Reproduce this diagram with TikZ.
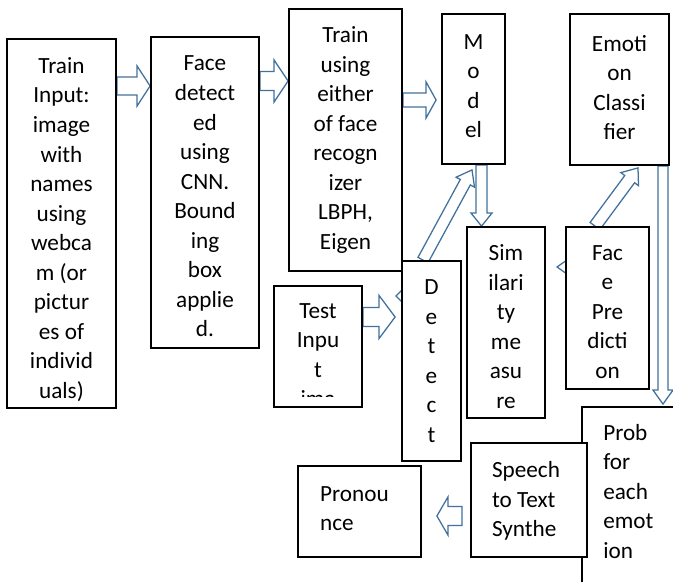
\documentclass[tikz,border=0pt]{standalone}
\usepackage{fontspec}
\setmainfont{Carlito}
\usetikzlibrary{calc,fit}
\pgfdeclarelayer{background}
\pgfsetlayers{background,main}
\definecolor{arrowblue}{RGB}{65,113,156}
\def\pxu{0.025cm}
\tikzset{
	box/.style={draw=black, line width=1.3pt, fill=white, inner sep=0pt},
	btext/.style={inner sep=0pt, align=center, font=\fontsize{16.5}{21}\selectfont},
	barrow/.style={draw=arrowblue, line width=0.9pt, fill=white, line join=miter}
}
% block arrow: from, to, shaft half width, head half width, head length
\newcommand\blockarrow[5]{
	\coordinate (ba) at (#1);
	\coordinate (bb) at (#2);
	\coordinate (bh) at ($(bb)!#5*\pxu!(ba)$);
	\draw[barrow] ($(ba)!#3*\pxu!90:(bb)$) -- ($(bh)!#3*\pxu!90:(bb)$) -- ($(bh)!#4*\pxu!90:(bb)$) -- (bb)
		-- ($(bh)!#4*\pxu!-90:(bb)$) -- ($(bh)!#3*\pxu!-90:(bb)$) -- ($(ba)!#3*\pxu!-90:(bb)$) -- cycle;
}

\begin{document}
\begin{tikzpicture}[x=\pxu,y=-\pxu]
			
			\useasboundingbox (0,0) rectangle (673,582);
			\clip (0,0) rectangle (673,582);
			
			\node[box, fit={(582,407) (700,600)}] (pr) {};
			\node[btext, anchor=north west, align=left] (prtxt) at (603,424) {Prob\\for\\each\\emot\\ion};
			
			\foreach \nm/\xa/\ya/\xb/\yb in {
				tin/7/39/116/408, fd/151/37/259/348, tu/289/9/402/271,
				md/442/14/505/164, ec/570/14/669/165, sim/467/227/545/418,
				fp/566/227/649/389, det/402/261/461/461, sp/471/443/587/557,
				pn/298/466/421/557, ti/274/286/362/407
			}
			{
				\node[box, fit={(\xa,\ya) (\xb,\yb)}] (\nm) {};
			}
			
			\node[btext] (tintxt) at ([yshift=-0.15cm]tin.center) {Train\\Input:\\image\\with\\names\\using\\webca\\m (or\\pictur\\es of\\individ\\uals)};
			\node[btext] (fdtxt) at ([yshift=-0.1cm]fd.center) {Face\\detect\\ed\\using\\CNN.\\Bound\\ing\\box\\applie\\d.};
			\node[btext] (tutxt) at (tu.center) {Train\\using\\either\\of face\\recogn\\izer\\LBPH,\\Eigen};
			\node[btext] (mdtxt) at ([yshift=0.075cm]md.center) {M\\o\\d\\el};
			\node[btext] (ectxt) at ([yshift=0.05cm]ec.center) {Emoti\\on\\Classi\\fier};
			\node[btext] (simtxt) at ([yshift=-0.1cm]sim.center) {Sim\\ilari\\ty\\me\\asu\\re};
			\node[btext] (fptxt) at ([yshift=-0.1cm]fp.center) {Fac\\e\\Pre\\dicti\\on};
			\node[btext] (dettxt) at (det.center) {D\\e\\t\\e\\c\\t};
			\node[btext, align=left] (sptxt) at ([xshift=-0.075cm,yshift=-0.025cm]sp.center) {Speech\\to Text\\Synthe};
			\node[btext, align=left] (pntxt) at ([xshift=-0.125cm,yshift=0.075cm]pn.center) {Pronou\\nce};
			
			\begin{scope}
				\clip (ti.north west) rectangle (362,397);
				\node[btext, anchor=north] (titxt) at (318,303) {Test\\Inpu\\t\\ima};
			\end{scope}
			
			\begin{pgfonlayer}{background}
				\blockarrow{tin.east |- 0,86}{fd.west |- 0,86}{9}{20}{13}
				\blockarrow{fd.east |- 0,81}{tu.west |- 0,81}{9.5}{21}{14}
				\blockarrow{tu.east |- 0,100}{$(md.west |- 0,100)+(-5,0)$}{7}{18}{10}
				\blockarrow{md.south -| 481.5,0}{sim.north -| 481.5,0}{5.5}{10.5}{13}
				\blockarrow{det.north -| 423,0}{$(md.south -| 472,0)+(0,5)$}{5.7}{10.5}{14}
				\blockarrow{ti.east |- 0,317}{$(det.west |- 0,317)+(-6,0)$}{9.5}{21.5}{16}
				\blockarrow{fp.north -| 595,0}{$(ec.south -| 638,0)+(0,2)$}{6.1}{11}{14}
				\blockarrow{ec.south -| 663,0}{$(pr.north -| 663,0)+(0,-2)$}{5}{10}{14}
				\blockarrow{$(sp.west |- 0,516)+(-8,0)$}{$(pn.east |- 0,516)+(15,0)$}{9.5}{19}{11}
				% only the tips show
				\blockarrow{$(det.west |- 0,296)+(40,0)$}{$(det.west |- 0,296)+(-5,0)$}{6}{12}{12}
				\blockarrow{$(fp.west |- 0,267)+(30,0)$}{$(fp.west |- 0,267)+(-8,0)$}{5}{10}{14}
			\end{pgfonlayer}
			
		\end{tikzpicture}
\end{document}
